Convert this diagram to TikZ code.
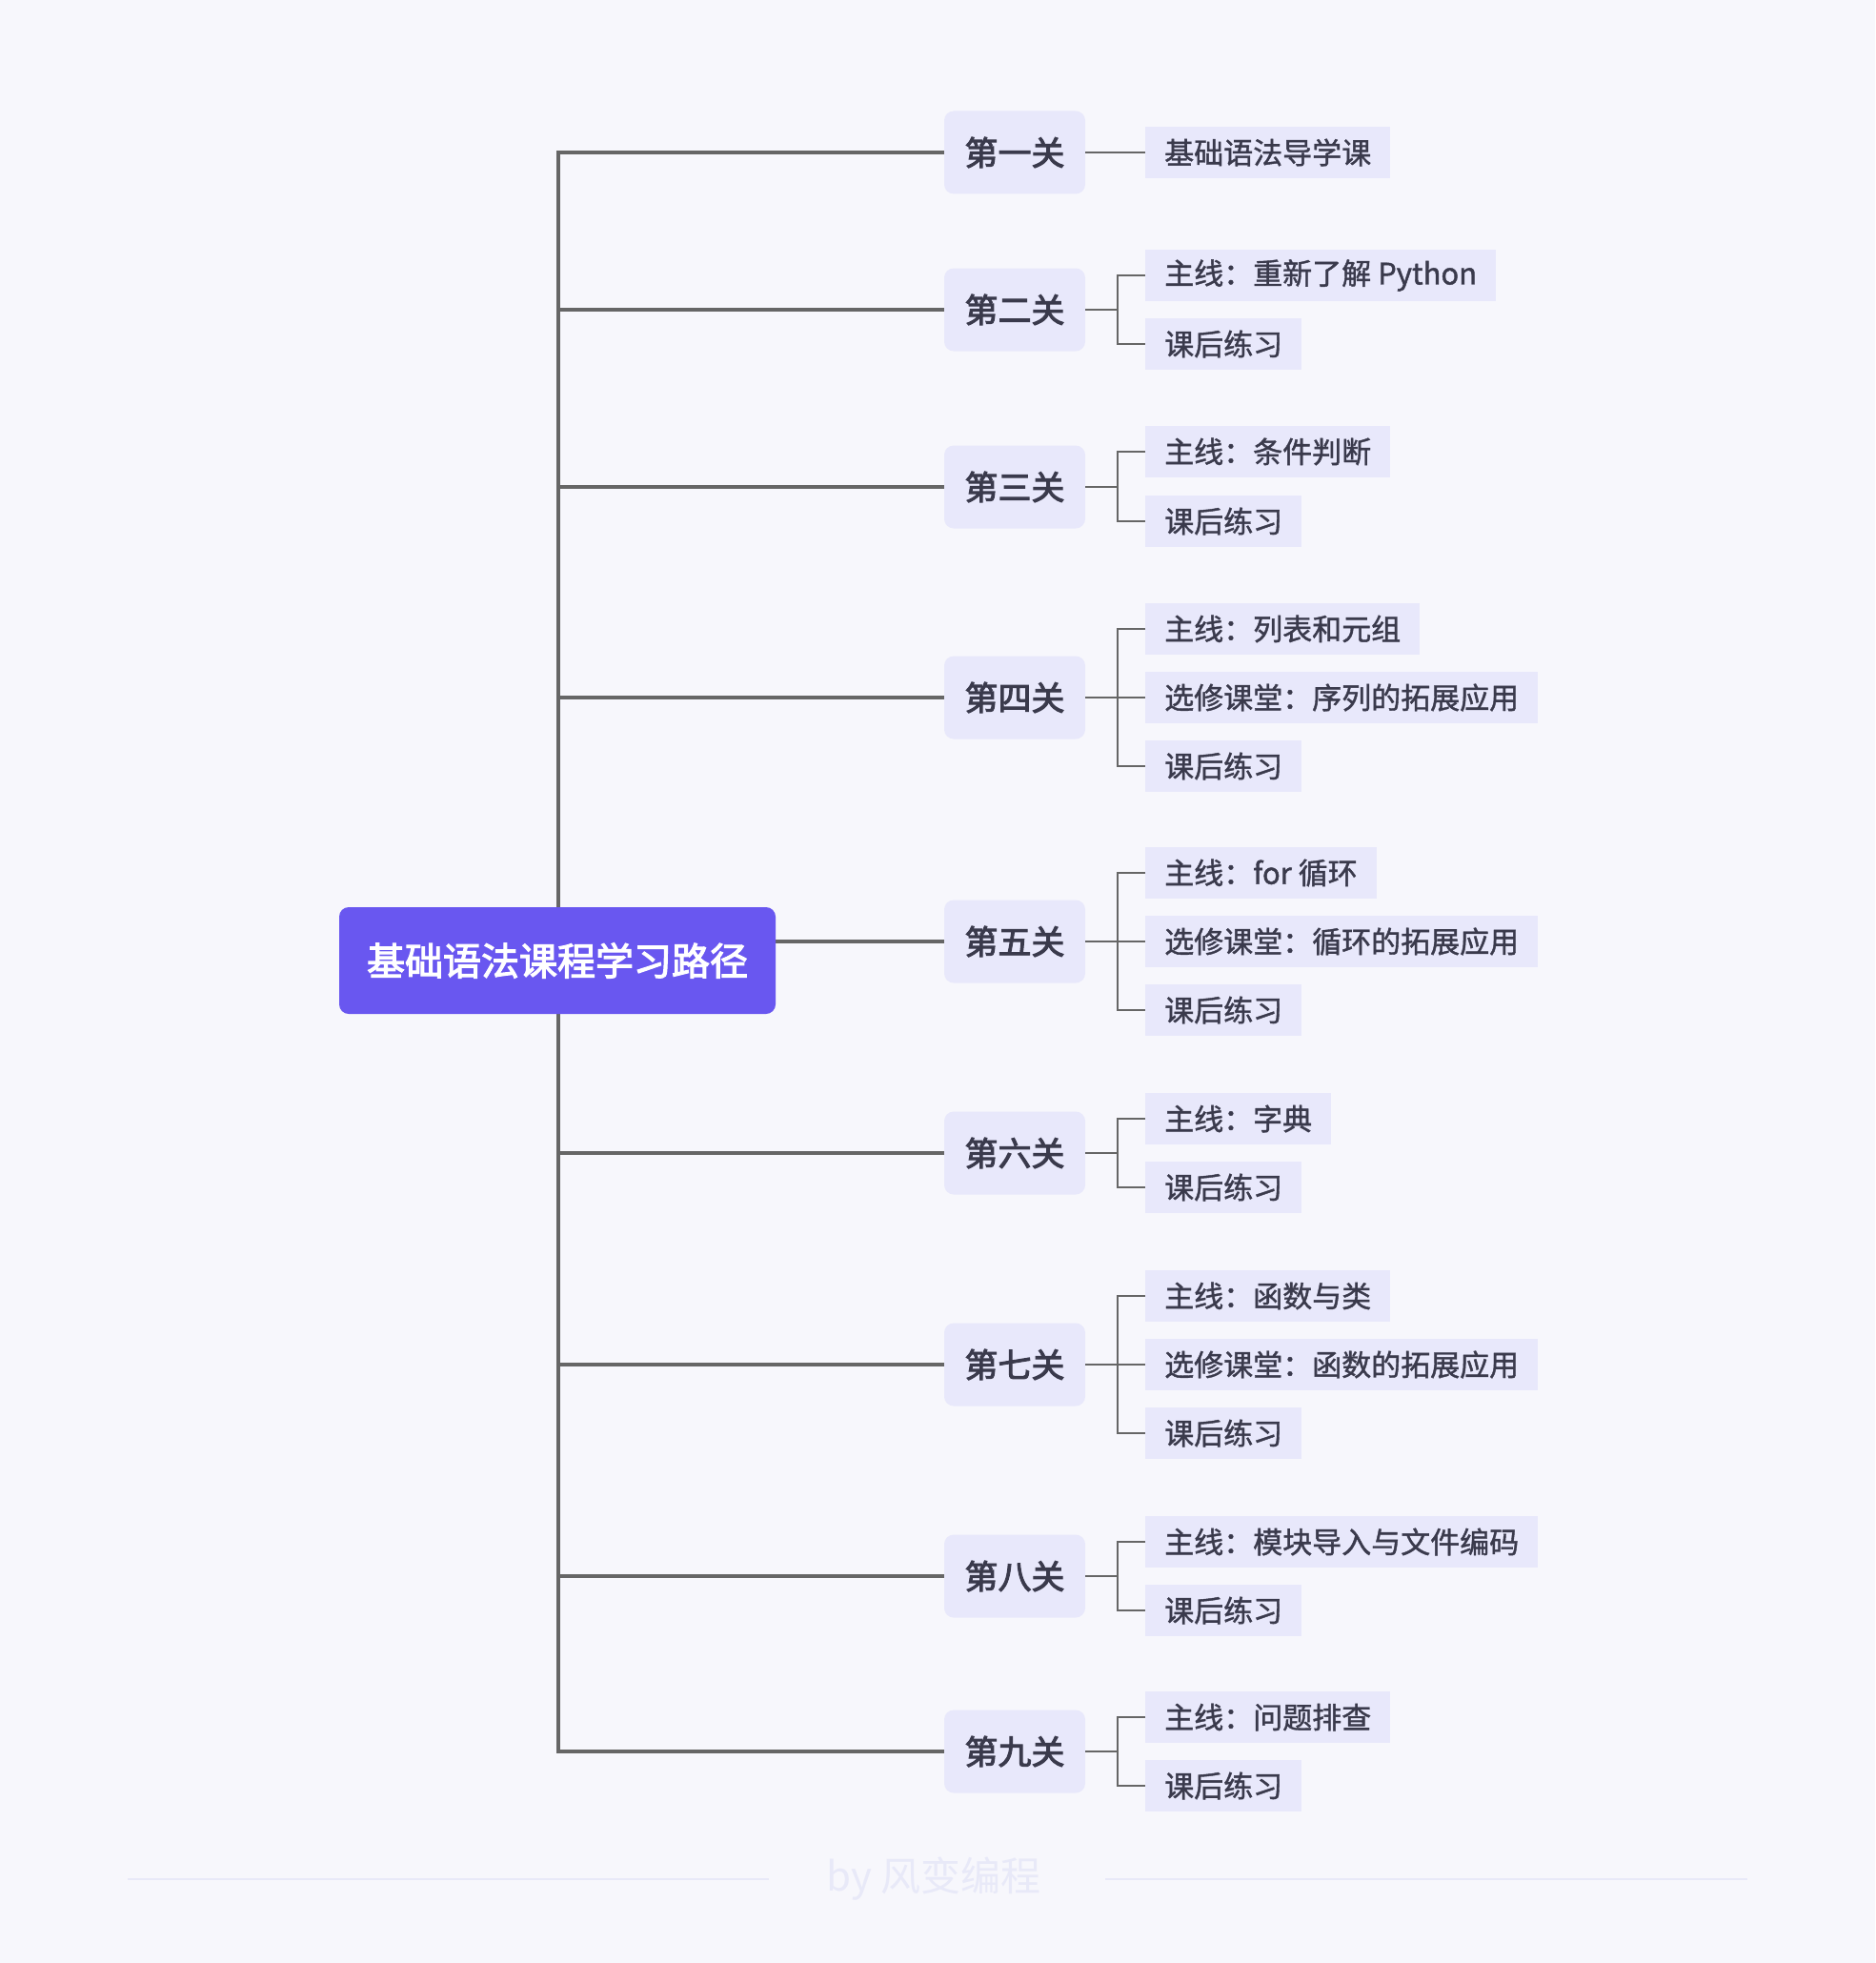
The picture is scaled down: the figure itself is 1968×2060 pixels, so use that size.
\documentclass[tikz,border=0pt]{standalone}
\usepackage{fontspec}
\setmainfont{Noto Sans CJK SC}
\newfontfamily\leaffont{Noto Sans CJK SC}[FakeBold=1.3]
\newfontfamily\lvlfont{Noto Sans CJK SC}[FakeBold=2.8]
\definecolor{bg}{HTML}{F7F7FC}
\definecolor{rootc}{HTML}{6957F0}
\definecolor{lvlc}{HTML}{E8E8FB}
\definecolor{leafc}{HTML}{E8E8FB}
\definecolor{txt}{HTML}{3A3A4C}
\definecolor{linec}{HTML}{666666}
\definecolor{footc}{HTML}{E8E9F8}
\begin{document}
\begin{tikzpicture}[x=1pt,y=-1pt,
  rootbox/.style={fill=rootc, rounded corners=10pt, minimum width=458pt, minimum height=112pt, inner sep=0pt, text=white, font=\lvlfont\fontsize{40}{48}\selectfont},
  lvlbox/.style={fill=lvlc, rounded corners=10pt, minimum width=148pt, minimum height=87pt, inner sep=0pt, text=txt, font=\lvlfont\fontsize{35}{42}\selectfont},
  leafbox/.style={fill=leafc, anchor=west, minimum height=54pt, inner xsep=20pt, inner ysep=0pt, text=txt, font=\leaffont\fontsize{31}{37}\selectfont},
  trunk/.style={draw=linec, line width=4pt, line join=miter},
  twig/.style={draw=linec, line width=2pt, line join=miter},
  footline/.style={draw=footc, line width=2pt},
]
\fill[bg] (0,0) rectangle (1968,2060);
\useasboundingbox (0,0) rectangle (1968,2060);

% level-1 nodes
\node[lvlbox] (l1) at (1065,160) {第一关};
\node[lvlbox] (l2) at (1065,325) {第二关};
\node[lvlbox] (l3) at (1065,511) {第三关};
\node[lvlbox] (l4) at (1065,732) {第四关};
\node[lvlbox] (l5) at (1065,988) {第五关};
\node[lvlbox] (l6) at (1065,1210) {第六关};
\node[lvlbox] (l7) at (1065,1432) {第七关};
\node[lvlbox] (l8) at (1065,1654) {第八关};
\node[lvlbox] (l9) at (1065,1838) {第九关};

% leaves
\node[leafbox] (a1) at (1202,160) {基础语法导学课};
\node[leafbox] (a2) at (1202,289) {主线：重新了解 Python};
\node[leafbox] (b2) at (1202,361) {课后练习};
\node[leafbox] (a3) at (1202,474) {主线：条件判断};
\node[leafbox] (b3) at (1202,547) {课后练习};
\node[leafbox] (a4) at (1202,660) {主线：列表和元组};
\node[leafbox] (b4) at (1202,732) {选修课堂：序列的拓展应用};
\node[leafbox] (c4) at (1202,804) {课后练习};
\node[leafbox] (a5) at (1202,916) {主线：for 循环};
\node[leafbox] (b5) at (1202,988) {选修课堂：循环的拓展应用};
\node[leafbox] (c5) at (1202,1060) {课后练习};
\node[leafbox] (a6) at (1202,1174) {主线：字典};
\node[leafbox] (b6) at (1202,1246) {课后练习};
\node[leafbox] (a7) at (1202,1360) {主线：函数与类};
\node[leafbox] (b7) at (1202,1432) {选修课堂：函数的拓展应用};
\node[leafbox] (c7) at (1202,1504) {课后练习};
\node[leafbox] (a8) at (1202,1618) {主线：模块导入与文件编码};
\node[leafbox] (b8) at (1202,1690) {课后练习};
\node[leafbox] (a9) at (1202,1802) {主线：问题排查};
\node[leafbox] (b9) at (1202,1874) {课后练习};

% trunk
\coordinate (tx) at (586,0);
\coordinate (fx) at (1173,0);
\draw[trunk] (l1.west) -- (l1.west -| tx) -- (l9.west -| tx) -- (l9.west);
\foreach \n in {l2,l3,l4,l5,l6,l7,l8}
  \draw[trunk] (\n.west -| tx) -- (\n.west);

% twigs
\draw[twig] (l1.east) -- (a1.west);
\foreach \l/\a/\b in {l2/a2/b2, l3/a3/b3, l6/a6/b6, l8/a8/b8, l9/a9/b9}{
  \draw[twig] (\l.east) -- (\l.east -| fx);
  \draw[twig] (\a.west) -- (\a.west -| fx) -- (\b.west -| fx) -- (\b.west);
}
\foreach \l/\a/\b/\c in {l4/a4/b4/c4, l5/a5/b5/c5, l7/a7/b7/c7}{
  \draw[twig] (\l.east) -- (\b.west);
  \draw[twig] (\a.west) -- (\a.west -| fx) -- (\c.west -| fx) -- (\c.west);
}

% root on top
\node[rootbox] (root) at (585,1008) {基础语法课程学习路径};

% footer
\node[text=footc, font=\fontsize{42}{50}\selectfont] (ft) at (980,1972) {by 风变编程};
\coordinate (fl1) at (134,1972);
\coordinate (fl2) at (807,1972);
\coordinate (fr1) at (1160,1972);
\coordinate (fr2) at (1834,1972);
\draw[footline] (fl1) -- (fl2);
\draw[footline] (fr1) -- (fr2);
\end{tikzpicture}
\end{document}
